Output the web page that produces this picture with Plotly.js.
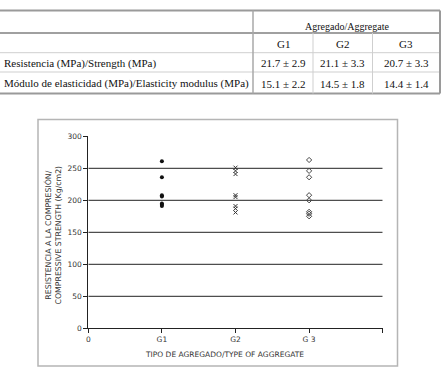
<!DOCTYPE html>
<html>
<head>
<meta charset="utf-8">
<script src="https://cdn.plot.ly/plotly-3.0.1.min.js"></script>
<style>html,body{margin:0;padding:0;background:#fff;}#chart{width:443px;height:375px;}</style>
</head>
<body>
<div id="chart"></div>
<script>
// ---- Table data ----
var tableHeader = "Agregado/Aggregate";
var tableCols = ["G1", "G2", "G3"];
var rowLabels = ["Resistencia (MPa)/Strength (MPa)", "Módulo de elasticidad (MPa)/Elasticity modulus (MPa)"];
var strengthVals = ["21.7 ± 2.9", "21.1 ± 3.3", "20.7 ± 3.3"];
var modulusVals = ["15.1 ± 2.2", "14.5 ± 1.8", "14.4 ± 1.4"];

// ---- Chart data ----
var xTickVals = [0, 1, 2, 3, 4];
var xTickText = ["0", "G1", "G2", "G 3", ""];
var yTickVals = [0, 50, 100, 150, 200, 250, 300];
var gridVals = [50, 100, 150, 200, 250];
var g1Vals = [261, 236, 208, 206, 195, 193, 191];
var g2Vals = [251, 246, 241, 208, 205, 191, 187, 181];
var g3Vals = [263, 246, 236, 208, 200, 182, 179, 175];
var xTitle = "TIPO DE AGREGADO/TYPE OF AGGREGATE";
var yTitle = "RESISTENCIA A LA COMPRESIÓN/<br>COMPRESSIVE STRENGTH (Kg/cm2)";

var W = 443, H = 375;
function px(x) { return x / W; }
function py(y) { return 1 - y / H; }

function rep(v, n) { var a = []; for (var i = 0; i < n; i++) a.push(v); return a; }

var traces = [
  { type: "scatter", mode: "markers", x: rep(1, g1Vals.length), y: g1Vals,
    marker: { symbol: "circle", size: 4, color: "#111" }, showlegend: false, hoverinfo: "y" },
  { type: "scatter", mode: "markers", x: rep(2, g2Vals.length), y: g2Vals,
    marker: { symbol: "x-thin-open", size: 4, color: "#333", line: { color: "#333", width: 1 } }, showlegend: false, hoverinfo: "y" },
  { type: "scatter", mode: "markers", x: rep(3, g3Vals.length), y: g3Vals,
    marker: { symbol: "diamond-open", size: 4, color: "#444", line: { color: "#444", width: 1 } }, showlegend: false, hoverinfo: "y" }
];

var shapes = [];
var annotations = [];

// chart grid lines
gridVals.forEach(function (v) {
  shapes.push({ type: "line", xref: "x", yref: "y", x0: 0, x1: 4, y0: v, y1: v, layer: "below",
    line: { color: "#222", width: 1 } });
});

// outer chart frame
shapes.push({ type: "rect", xref: "paper", yref: "paper", x0: px(38), x1: px(397.5), y0: py(119.5), y1: py(366),
  line: { color: "#b5b5b5", width: 1.5 } });

// table lines
var tL = 0, tC = 253, tR = 440;
var colEdges = [253, 313, 372.5, 440];
var yTop = 10.5, yHead = 33, yG = 52.7, yR1 = 72, yBot = 93.5;
function hline(x0, x1, y, c, w) {
  shapes.push({ type: "line", xref: "paper", yref: "paper", x0: px(x0), x1: px(x1), y0: py(y), y1: py(y), line: { color: c, width: w } });
}
function vline(x, y0, y1, c, w) {
  shapes.push({ type: "line", xref: "paper", yref: "paper", x0: px(x), x1: px(x), y0: py(y0), y1: py(y1), line: { color: c, width: w } });
}
hline(tL, tR, yTop, "#9a9a9a", 2);
hline(tL, tR, yHead, "#a0a0a0", 2);
hline(tL, tR, yG, "#cfcfcf", 1);
hline(tL, tR, yR1, "#cfcfcf", 1);
hline(tL, tR, yBot, "#9a9a9a", 2);
vline(tC, yTop, yBot, "#a8a8a8", 1.5);
vline(colEdges[1], yHead, yBot, "#cfcfcf", 1);
vline(colEdges[2], yHead, yBot, "#cfcfcf", 1);
vline(tR, yTop, yBot, "#9a9a9a", 2);

var serif = "Liberation Serif, Times New Roman, serif";
var tcol = "#111";
annotations.push({ xref: "paper", yref: "paper", x: px((tC + tR) / 2), y: py(26), text: tableHeader, showarrow: false,
  xanchor: "center", yanchor: "middle", font: { family: serif, size: 10, color: tcol } });
for (var i = 0; i < tableCols.length; i++) {
  var cx = (colEdges[i] + colEdges[i + 1]) / 2;
  annotations.push({ xref: "paper", yref: "paper", x: px(cx), y: py(43.5), text: tableCols[i], showarrow: false,
    xanchor: "center", yanchor: "middle", font: { family: serif, size: 11, color: tcol } });
  annotations.push({ xref: "paper", yref: "paper", x: px(cx), y: py(63), text: strengthVals[i], showarrow: false,
    xanchor: "center", yanchor: "middle", font: { family: serif, size: 11, color: tcol } });
  annotations.push({ xref: "paper", yref: "paper", x: px(cx), y: py(83.5), text: modulusVals[i], showarrow: false,
    xanchor: "center", yanchor: "middle", font: { family: serif, size: 11, color: tcol } });
}
annotations.push({ xref: "paper", yref: "paper", x: px(1.5), y: py(63), text: rowLabels[0], showarrow: false,
  xanchor: "left", yanchor: "middle", font: { family: serif, size: 11, color: tcol } });
annotations.push({ xref: "paper", yref: "paper", x: px(1.5), y: py(83.5), text: rowLabels[1], showarrow: false,
  xanchor: "left", yanchor: "middle", font: { family: serif, size: 11, color: tcol } });

// axis titles
var sans = "DejaVu Sans, sans-serif";
annotations.push({ xref: "paper", yref: "paper", x: px(224), y: py(354.5), text: xTitle, showarrow: false,
  xanchor: "center", yanchor: "middle", font: { family: sans, size: 7.5, color: "#333" } });
annotations.push({ xref: "paper", yref: "paper", x: px(52.5), y: py(235), text: yTitle, showarrow: false, textangle: -90,
  xanchor: "center", yanchor: "middle", font: { family: sans, size: 7.8, color: "#333" } });

var layout = {
  width: W, height: H,
  margin: { l: 0, r: 0, t: 0, b: 0, pad: 0 },
  paper_bgcolor: "#fff", plot_bgcolor: "#fff",
  showlegend: false,
  xaxis: {
    domain: [px(88.3), px(382.7)], range: [0, 4], automargin: false,
    tickmode: "array", tickvals: xTickVals, ticktext: xTickText,
    ticks: "outside", ticklen: 4, tickwidth: 1, tickcolor: "#222",
    showline: true, linecolor: "#222", linewidth: 1, showgrid: false, zeroline: false,
    tickfont: { family: sans, size: 7.5, color: "#333" }
  },
  yaxis: {
    domain: [py(328.3), py(136.3)], range: [0, 300], automargin: false,
    tickmode: "array", tickvals: yTickVals,
    ticks: "outside", ticklen: 4, tickwidth: 1, tickcolor: "#222",
    showline: true, linecolor: "#222", linewidth: 1, showgrid: false, zeroline: false,
    tickfont: { family: sans, size: 7.5, color: "#333" }
  },
  shapes: shapes,
  annotations: annotations
};

Plotly.newPlot("chart", traces, layout, { displayModeBar: false, staticPlot: true });
</script>
</body>
</html>
